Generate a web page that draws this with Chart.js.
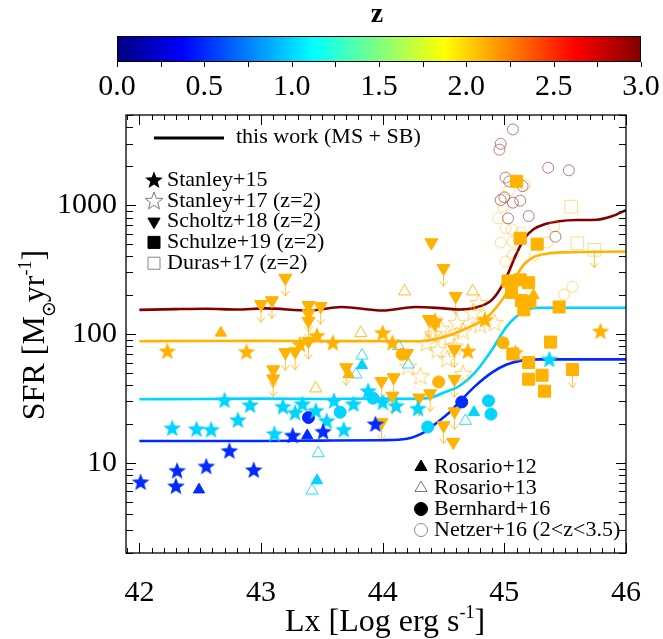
<!DOCTYPE html>
<html>
<head>
<meta charset="utf-8">
<script src="https://cdn.jsdelivr.net/npm/chart.js@4.4.1/dist/chart.umd.min.js"></script>
<style>
  html, body { margin: 0; padding: 0; background: #fff; }
</style>
</head>
<body>
<canvas id="sfrChart" width="663" height="639"></canvas>
<script>
// ---- data (Lx in log erg/s, SFR in Msun/yr) ----
// model curves "this work (MS + SB)" at four redshifts
const lineZ05 = [[42.0,14.8],[42.5,14.8],[43.0,14.8],[43.5,14.9],[44.0,15.0],[44.2,15.4],[44.35,17.5],[44.45,20.7],[44.55,24.7],[44.63,29.6],[44.76,39.4],[44.9,50.4],[45.02,58],[45.15,62.4],[45.3,63.6],[46.0,63.6]];
const lineZ1  = [[42.0,31.2],[42.5,31.3],[43.0,31.5],[43.5,31.3],[44.0,31.6],[44.2,31.4],[44.37,31.8],[44.5,35],[44.63,39.5],[44.76,50.4],[44.9,75.9],[45.02,114.7],[45.16,150],[45.29,160],[46.0,160]];
const lineZ2  = [[42.0,87.9],[42.5,88.3],[43.0,88.5],[43.5,88],[44.0,88],[44.31,87.9],[44.45,92],[44.58,100],[44.71,113],[44.84,130],[44.92,155],[45.0,195],[45.08,265],[45.16,345],[45.24,395],[45.35,420],[45.5,430],[46.0,436]];
const lineZ3  = [[42.0,154],[42.3,156],[42.55,157],[42.8,155],[43.03,158],[43.4,152],[43.66,162],[44.0,152],[44.27,162],[44.5,158],[44.63,155],[44.76,160],[44.9,185],[45.0,255],[45.1,420],[45.17,560],[45.24,650],[45.33,710],[45.45,750],[45.6,766],[45.76,770],[45.89,822],[46.0,915]];
const lineZs = [0.5, 1.0, 2.1, 3.0];

// redshift of each colour group
const zBlue = 0.5, zCyan = 1.0, zOrange = 2.1, zRed = 3.0;

const stanley15Blue   = [[42.01,7.1],[42.31,8.7],[42.30,6.6],[42.55,9.4],[42.74,12.4],[42.94,8.8],[43.26,16.3],[43.51,17.5],[43.94,20.0]];
const stanley15Cyan   = [[42.27,18.6],[42.47,18.3],[42.59,18.1],[42.70,30.6],[42.81,21.5],[42.91,28.1],[43.11,16.8],[43.18,27.3],[43.28,24.5],[43.34,28.6],[43.45,25.4],[43.54,21.2],[43.60,30.3],[43.68,18.1],[43.76,28.6],[43.88,36.1],[44.0,29.5],[44.11,27.7],[44.29,26.4],[45.37,63.6]];
const stanley15Orange = [[42.23,73.6],[42.88,72.8],[43.32,83],[43.46,97],[43.59,85.5],[44.0,102],[44.08,85.5],[44.43,127],[44.70,73.6],[44.84,129],[45.09,71.6],[45.79,105]];
const stanley17Orange = [[44.21,56],[44.31,47],[44.42,100],[44.48,110],[44.55,93],[44.61,122],[44.66,105],[44.74,146],[44.80,118],[44.92,122],[44.53,64],[44.66,49],[44.45,75],[44.36,85],[44.79,174],[44.59,80]];
// [x, y, upper limit]
const scholtz18 = [[43.0,170,1],[43.09,182,1],[43.20,272,1],[43.39,167,1],[43.39,144,1],[43.39,126,1],[43.49,164,1],[43.10,53,1],[43.10,45,1],[43.20,72,1],[43.28,73,1],[43.39,88,1],[43.70,55,1],[43.99,43,1],[44.09,46,1],[44.08,33,1],[43.99,20.6,1],[44.20,71,0],[44.30,32,1],[44.39,34.5,1],[44.40,512,0],[44.50,324,1],[44.60,196,1],[44.38,130,1],[44.43,120,1],[44.59,76,1],[44.59,44.6,1],[44.59,25,1],[44.50,19.5,1],[44.58,14.5,0]];
const schulze19 = [[45.10,1531,0],[45.13,553,0],[45.27,498,0],[45.03,258,0],[45.13,263,0],[45.20,250,0],[45.06,210,0],[45.14,182,0],[45.21,178,0],[45.16,154,0],[45.45,162,0],[45.07,70,0],[45.38,86.5,0],[45.20,60,0],[45.20,44.6,0],[45.31,47.9,0],[45.33,36,0],[45.56,53,1]];
const duras17 = [[45.55,973,0],[45.60,506,0],[45.74,450,1]];
const rosario12Blue   = [[42.49,6.2],[43.38,16.3]];
const rosario12Cyan   = [[43.83,57],[43.46,7.3],[44.75,24.7]];
const rosario12Orange = [[42.67,102],[43.72,48.6],[45.24,200]];
const rosario13Cyan   = [[43.83,68],[43.78,48.6],[43.47,11.9],[43.42,6.1],[44.13,80.5],[44.21,58],[44.68,21.2]];
const rosario13Orange = [[43.82,102],[43.45,37.8],[44.18,214],[44.74,214]];
const bernhardBlue    = [[43.39,22.5],[44.65,29.7]];
const bernhardCyan    = [[43.65,24.7],[43.92,31.8],[44.37,19],[44.87,30.3],[44.89,23.9]];
const bernhardOrange  = [[44.16,69.5],[44.46,42.5],[44.99,85.5]];
const netzerRed    = [[45.07,3864],[44.97,2992],[44.96,2692],[45.36,1950],[45.53,1863],[45.01,1636],[45.04,1525],[45.15,1403],[44.97,1094],[45.0,1148],[45.07,1045],[45.13,1083],[45.2,822],[45.03,789],[45.42,569]];
const netzerOrange = [[45.17,1427],[45.04,1306],[44.99,973],[44.95,789],[45.01,660],[45.06,649],[45.14,611],[44.97,512],[45.07,521],[45.35,512],[45.41,682],[45.07,411],[45.25,411],[45.01,365],[45.56,232],[45.49,202]];

const xTicks = [42, 43, 44, 45, 46];
const yTicks = [10, 100, 1000];
const cbarTicks = [0.0, 0.5, 1.0, 1.5, 2.0, 2.5, 3.0];

// ---- helpers ----
const SERIF = "'Liberation Serif', 'DejaVu Serif', serif";

function jet(z) {
  const t = z / 3;
  const c = v => Math.round(255 * Math.max(0, Math.min(1, v)));
  return [c(Math.min(4 * t - 1.5, -4 * t + 4.5)), c(Math.min(4 * t - 0.5, -4 * t + 3.5)), c(Math.min(4 * t + 0.5, -4 * t + 2.5))];
}
function col(z, a) {
  const [r, g, b] = jet(z);
  return a === undefined ? `rgb(${r},${g},${b})` : `rgba(${r},${g},${b},${a})`;
}

function starPath(ctx, cx, cy, R, r) {
  ctx.beginPath();
  for (let k = 0; k < 10; k++) {
    const ang = -Math.PI / 2 + k * Math.PI / 5;
    const rad = k % 2 ? r : R;
    ctx.lineTo(cx + rad * Math.cos(ang), cy + rad * Math.sin(ang));
  }
  ctx.closePath();
}
function makeStar(fill, stroke, lw) {
  const c = document.createElement('canvas');
  c.width = 22; c.height = 22;
  const g = c.getContext('2d');
  starPath(g, 11, 11.5, 9.3, 3.9);
  if (fill) { g.fillStyle = fill; g.fill(); }
  if (stroke) { g.strokeStyle = stroke; g.lineWidth = lw; g.stroke(); }
  return c;
}

const pts = arr => arr.map(p => ({ x: p[0], y: p[1] }));

function stars(label, arr, z) {
  return { type: 'scatter', label, data: pts(arr), pointStyle: makeStar(col(z), null, 0), pointRadius: 9 };
}
function marks(label, arr, style, color, fill, extra) {
  return Object.assign({
    type: 'scatter', label, data: pts(arr), pointStyle: style,
    pointBorderColor: color, pointBackgroundColor: fill ? color : 'rgba(0,0,0,0)',
    pointBorderWidth: 1, pointRadius: 7
  }, extra || {});
}
function curve(arr, z) {
  return { type: 'line', label: 'model z=' + z, data: pts(arr), borderColor: col(z), borderWidth: 2.6,
           pointRadius: 0, cubicInterpolationMode: 'monotone', fill: false };
}

const orange = col(zOrange);
const datasets = [
  stars('Stanley+15', stanley15Blue, zBlue),
  stars('Stanley+15', stanley15Cyan, zCyan),
  stars('Stanley+15', stanley15Orange, zOrange),
  marks('Rosario+12', rosario12Blue, 'triangle', col(zBlue), true, { pointRadius: 6.5 }),
  marks('Rosario+12', rosario12Cyan, 'triangle', col(zCyan), true, { pointRadius: 6.5 }),
  marks('Rosario+12', rosario12Orange, 'triangle', orange, true, { pointRadius: 6.5 }),
  marks('Bernhard+16', bernhardBlue, 'circle', col(zBlue), true, { pointRadius: 6 }),
  marks('Bernhard+16', bernhardCyan, 'circle', col(zCyan), true, { pointRadius: 6 }),
  marks('Bernhard+16', bernhardOrange, 'circle', orange, true, { pointRadius: 6 }),
  Object.assign(marks('Scholtz+18', scholtz18, 'triangle', orange, true, { pointRadius: 7.5, pointRotation: 180 }),
                { limits: scholtz18.map(p => p[2]) }),
  Object.assign(marks('Schulze+19', schulze19, 'rect', orange, true, { pointRadius: 8.5 }),
                { limits: schulze19.map(p => p[2]) }),
  Object.assign(marks('Duras+17', duras17, 'rect', col(zOrange, 0.45), false, { pointRadius: 9 }),
                { limits: duras17.map(p => p[2]) }),
  marks('Rosario+13', rosario13Cyan, 'triangle', col(zCyan, 0.8), false, { pointRadius: 7 }),
  marks('Rosario+13', rosario13Orange, 'triangle', col(zOrange, 0.85), false, { pointRadius: 7 }),
  { type: 'scatter', label: 'Stanley+17', data: pts(stanley17Orange), pointStyle: makeStar(null, col(zOrange, 0.6), 1), pointRadius: 9 },
  marks('Netzer+16', netzerRed, 'circle', col(zRed, 0.5), false, { pointRadius: 5.5 }),
  marks('Netzer+16', netzerOrange, 'circle', col(zOrange, 0.45), false, { pointRadius: 5.5 }),
  curve(lineZ3, lineZs[3]),
  curve(lineZ2, lineZs[2]),
  curve(lineZ1, lineZs[1]),
  curve(lineZ05, lineZs[0])
];

// upper-limit arrows, drawn below the markers
const limitArrows = {
  id: 'limitArrows',
  beforeDatasetsDraw(chart) {
    const ctx = chart.ctx;
    chart.data.datasets.forEach((ds, i) => {
      if (!ds.limits) return;
      const meta = chart.getDatasetMeta(i);
      ctx.save();
      ctx.strokeStyle = col(zOrange, 0.75);
      ctx.lineWidth = 1;
      meta.data.forEach((el, j) => {
        if (!ds.limits[j]) return;
        const x = el.x, y = el.y;
        ctx.beginPath();
        ctx.moveTo(x, y);
        ctx.lineTo(x, y + 18);
        ctx.moveTo(x - 4, y + 13);
        ctx.lineTo(x, y + 18);
        ctx.lineTo(x + 4, y + 13);
        ctx.stroke();
      });
      ctx.restore();
    });
  }
};

// frame with inward minor/major ticks on all sides
const frameTicks = {
  id: 'frameTicks',
  afterDraw(chart) {
    const { ctx, chartArea: a, scales: { x, y } } = chart;
    ctx.save();
    ctx.strokeStyle = '#000';
    ctx.lineWidth = 1.3;
    ctx.strokeRect(a.left, a.top, a.right - a.left, a.bottom - a.top);
    ctx.lineWidth = 1;
    ctx.beginPath();
    for (let k = 419; k <= 460; k++) {
      const v = k / 10;
      if (v < x.min || v > x.max) continue;
      const px = Math.round(x.getPixelForValue(v)) + 0.5;
      const len = k % 10 === 0 ? 10 : 5;
      ctx.moveTo(px, a.bottom); ctx.lineTo(px, a.bottom - len);
      ctx.moveTo(px, a.top); ctx.lineTo(px, a.top + len);
    }
    for (let d = 0; d <= 3; d++) {
      for (let m = 1; m <= 9; m++) {
        const v = m * Math.pow(10, d);
        if (v < y.min || v > y.max) continue;
        const py = Math.round(y.getPixelForValue(v)) + 0.5;
        const len = m === 1 ? 10 : 7;
        ctx.moveTo(a.left, py); ctx.lineTo(a.left + len, py);
        ctx.moveTo(a.right, py); ctx.lineTo(a.right - len, py);
      }
    }
    ctx.stroke();
    ctx.restore();
  }
};

function drawPart(ctx, parts, x, y) {
  let w = 0;
  parts.forEach(p => { ctx.font = p.size + 'px ' + SERIF; p.w = p.t ? ctx.measureText(p.t).width : p.w0; w += p.w; });
  let cx = x - w / 2;
  parts.forEach(p => {
    ctx.font = p.size + 'px ' + SERIF;
    if (p.t) ctx.fillText(p.t, cx, y + (p.dy || 0));
    if (p.sun) {
      ctx.beginPath(); ctx.lineWidth = 1.4;
      ctx.arc(cx + p.w / 2, y + p.dy, 5.5, 0, Math.PI * 2); ctx.stroke();
      ctx.beginPath(); ctx.arc(cx + p.w / 2, y + p.dy, 1.4, 0, Math.PI * 2); ctx.fill();
    }
    cx += p.w;
  });
}

// colour bar, axis titles and the two legend blocks
const decorations = {
  id: 'decorations',
  afterDraw(chart) {
    const ctx = chart.ctx;
    ctx.save();
    ctx.fillStyle = '#000'; ctx.strokeStyle = '#000';
    ctx.textBaseline = 'alphabetic'; ctx.textAlign = 'left';

    // colour bar
    const bx0 = 117, bx1 = 641, by0 = 36, by1 = 62;
    const grad = ctx.createLinearGradient(bx0, 0, bx1, 0);
    for (let k = 0; k <= 24; k++) grad.addColorStop(k / 24, col(3 * k / 24));
    ctx.fillStyle = grad;
    ctx.fillRect(bx0, by0, bx1 - bx0, by1 - by0);
    ctx.lineWidth = 1;
    ctx.strokeRect(bx0 + 0.5, by0 + 0.5, bx1 - bx0 - 1, by1 - by0 - 1);
    ctx.fillStyle = '#000';
    ctx.beginPath();
    for (let k = 0; k <= 12; k++) {
      const px = Math.round(bx0 + (bx1 - bx0) * k / 12) + 0.5;
      ctx.moveTo(px, by1); ctx.lineTo(px, by1 + 5);
    }
    ctx.stroke();
    ctx.font = '30px ' + SERIF;
    ctx.textAlign = 'center';
    cbarTicks.forEach(v => ctx.fillText(v.toFixed(1), bx0 + (bx1 - bx0) * v / 3, 95));
    ctx.font = 'bold 28px ' + SERIF;
    ctx.fillText('z', 377, 22);

    // axis titles
    ctx.textAlign = 'left';
    drawPart(ctx, [{ t: 'Lx [Log erg s', size: 32 }, { t: '-1', size: 18, dy: -13 }, { t: ']', size: 32 }], 385, 631);
    ctx.save();
    ctx.translate(44, 335);
    ctx.rotate(-Math.PI / 2);
    drawPart(ctx, [{ t: 'SFR [M', size: 32 }, { sun: true, w0: 14, size: 22, dy: 5 }, { t: 'yr', size: 32 },
                   { t: '-1', size: 18, dy: -13 }, { t: ']', size: 32 }], 0, 0);
    ctx.restore();

    // legend, upper left
    ctx.font = '22px ' + SERIF;
    ctx.textBaseline = 'middle';
    ctx.lineWidth = 3;
    ctx.beginPath(); ctx.moveTo(154, 138); ctx.lineTo(224, 138); ctx.stroke();
    ctx.fillText('this work (MS + SB)', 236, 137);
    const H = Chart.helpers;
    const rows1 = [
      ['Stanley+15', { pointStyle: makeStar('#000', null, 0), radius: 9 }],
      ['Stanley+17 (z=2)', { pointStyle: makeStar(null, '#777', 1), radius: 9 }],
      ['Scholtz+18 (z=2)', { pointStyle: 'triangle', radius: 7, rotation: 180, fill: '#000', stroke: '#000' }],
      ['Schulze+19 (z=2)', { pointStyle: 'rect', radius: 8.5, fill: '#000', stroke: '#000' }],
      ['Duras+17 (z=2)', { pointStyle: 'rect', radius: 8.5, fill: 'rgba(0,0,0,0)', stroke: '#888' }]
    ];
    const rows2 = [
      ['Rosario+12', { pointStyle: 'triangle', radius: 7, fill: '#000', stroke: '#000' }],
      ['Rosario+13', { pointStyle: 'triangle', radius: 7, fill: 'rgba(0,0,0,0)', stroke: '#777' }],
      ['Bernhard+16', { pointStyle: 'circle', radius: 6.5, fill: '#000', stroke: '#000' }],
      ['Netzer+16 (2<z<3.5)', { pointStyle: 'circle', radius: 6.5, fill: 'rgba(0,0,0,0)', stroke: '#888' }]
    ];
    const drawRows = (rows, x0, y0, step) => rows.forEach(([txt, o], k) => {
      const yy = y0 + k * step;
      ctx.save();
      ctx.fillStyle = o.fill || '#000'; ctx.strokeStyle = o.stroke || '#000'; ctx.lineWidth = 1;
      H.drawPoint(ctx, { pointStyle: o.pointStyle, radius: o.radius, rotation: o.rotation || 0, borderWidth: 1 }, x0, yy);
      ctx.restore();
      ctx.fillStyle = '#000';
      ctx.fillText(txt, x0 + 13, yy);
    });
    drawRows(rows1, 154, 180, 20.8);
    drawRows(rows2, 421, 467, 21);
    ctx.restore();
  }
};

new Chart(document.getElementById('sfrChart'), {
  type: 'scatter',
  data: { datasets },
  options: {
    responsive: false,
    devicePixelRatio: 1,
    animation: false,
    layout: { autoPadding: false, padding: { top: 115, right: 17, left: 0, bottom: 0 } },
    plugins: { legend: { display: false }, tooltip: { enabled: false } },
    scales: {
      x: {
        type: 'linear', min: 41.89, max: 46,
        grid: { display: false, drawTicks: false }, border: { display: false },
        ticks: { font: { family: SERIF, size: 30 }, color: '#000', padding: 22, maxRotation: 0, autoSkip: false },
        afterBuildTicks: s => { s.ticks = xTicks.map(v => ({ value: v })); },
        afterFit: s => { s.height = 86; }
      },
      y: {
        type: 'logarithmic', min: 2, max: 5000,
        grid: { display: false, drawTicks: false }, border: { display: false },
        ticks: { font: { family: SERIF, size: 30 }, color: '#000', padding: 9, autoSkip: false,
                 callback: v => String(v) },
        afterBuildTicks: s => { s.ticks = yTicks.map(v => ({ value: v })); },
        afterFit: s => { s.width = 126; }
      }
    }
  },
  plugins: [limitArrows, frameTicks, decorations]
});
</script>
</body>
</html>
